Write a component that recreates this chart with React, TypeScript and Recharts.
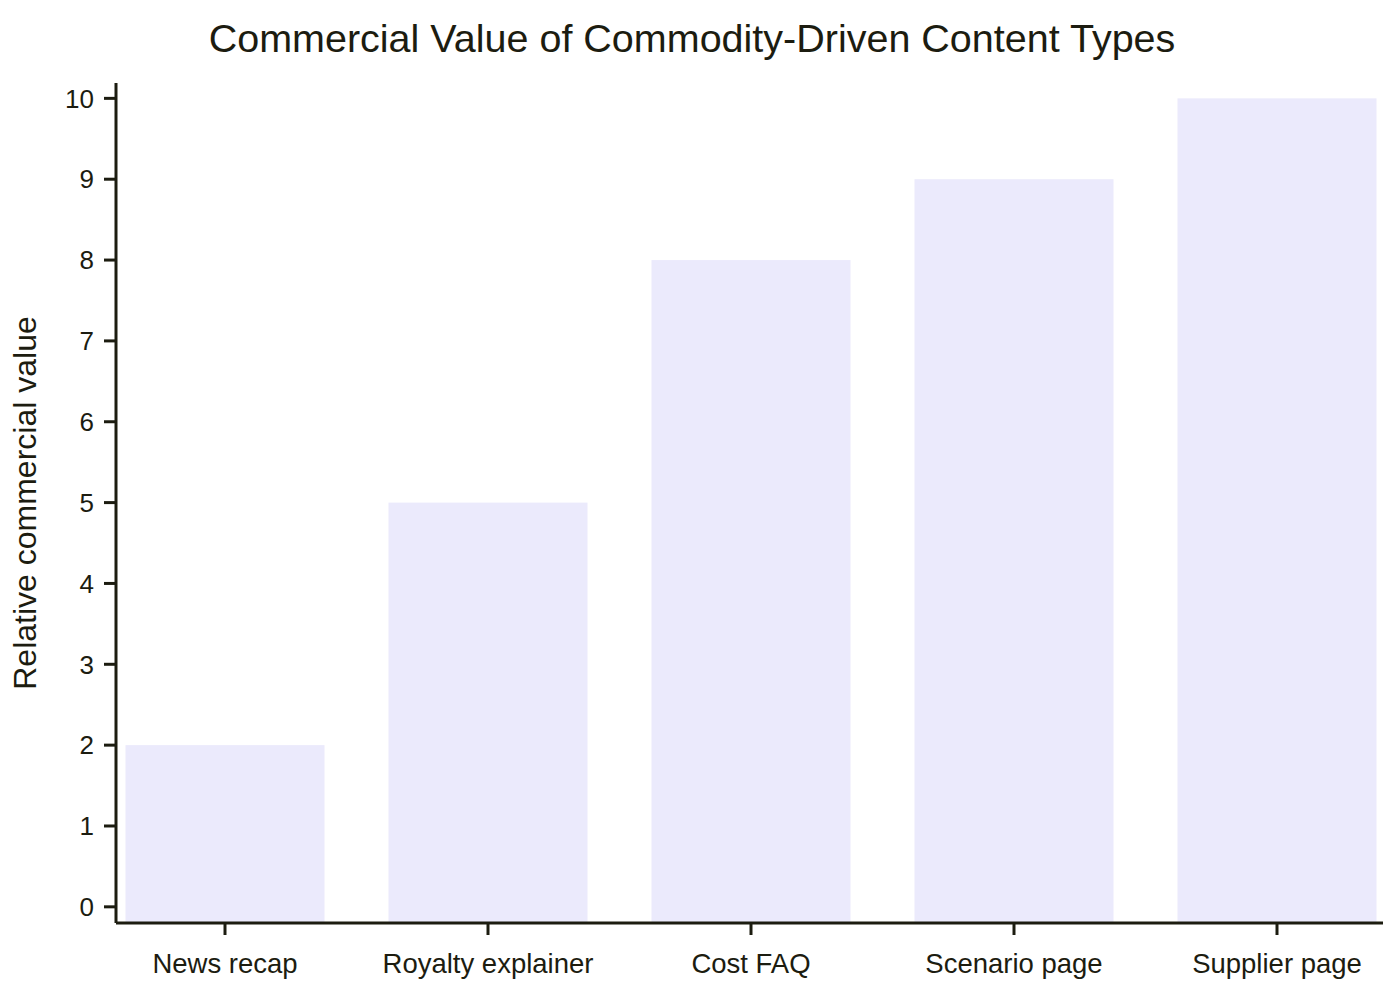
import { BarChart, Bar, XAxis, YAxis, Label } from "recharts";

const categories = ["News recap", "Royalty explainer", "Cost FAQ", "Scenario page", "Supplier page"];
const values = [2, 5, 8, 9, 10];
const yTicks = [0, 1, 2, 3, 4, 5, 6, 7, 8, 9, 10];

const data = categories.map((name, i) => ({ name, value: values[i] }));

const W = 1400;
const H = 1000;
const MARGIN = { top: 83, right: 17, bottom: 7, left: 16 };
const X_AXIS_H = 70;
const PLOT_BOTTOM = H - MARGIN.bottom - X_AXIS_H;
const INK = "#1c1c10";
const FONT = "'Liberation Sans', Arial, sans-serif";

// bars run down to the axis line, not just to zero
const BarShape = (props: any) => {
  const { x, y, width, fill } = props;
  return <rect x={x} y={y} width={width} height={Math.max(0, PLOT_BOTTOM - y)} fill={fill} />;
};

export default function App() {
  return (
    <div style={{ position: "absolute", left: 0, top: 0, width: W, height: H, background: "#fff", fontFamily: FONT }}>
      <div
        style={{
          position: "absolute",
          left: 0,
          width: 1384,
          top: 15,
          textAlign: "center",
          fontSize: 39.5,
          lineHeight: "46px",
          color: INK,
        }}
      >
        Commercial Value of Commodity-Driven Content Types
      </div>
      <BarChart width={W} height={H} data={data} margin={MARGIN}>
        <XAxis
          dataKey="name"
          height={X_AXIS_H}
          padding={{ left: -22.5, right: -25.5 }}
          axisLine={{ stroke: INK, strokeWidth: 3 }}
          tickLine={{ stroke: INK, strokeWidth: 3 }}
          tickSize={12}
          tickMargin={18}
          tick={{ fill: INK, fontSize: 27.5, fontFamily: FONT }}
          interval={0}
        />
        <YAxis
          width={100}
          domain={[-0.2, 10.19]}
          ticks={yTicks}
          axisLine={{ stroke: INK, strokeWidth: 3 }}
          tickLine={{ stroke: INK, strokeWidth: 3 }}
          tickSize={12}
          tickMargin={10}
          tick={{ fill: INK, fontSize: 26, fontFamily: FONT }}
        >
          <Label
            value="Relative commercial value"
            angle={-90}
            position="insideLeft"
            offset={9}
            style={{ textAnchor: "middle", fill: INK, fontSize: 32, fontFamily: FONT }}
          />
        </YAxis>
        <Bar dataKey="value" fill="#EBEAFC" barSize={199} shape={<BarShape />} isAnimationActive={false} />
      </BarChart>
    </div>
  );
}
